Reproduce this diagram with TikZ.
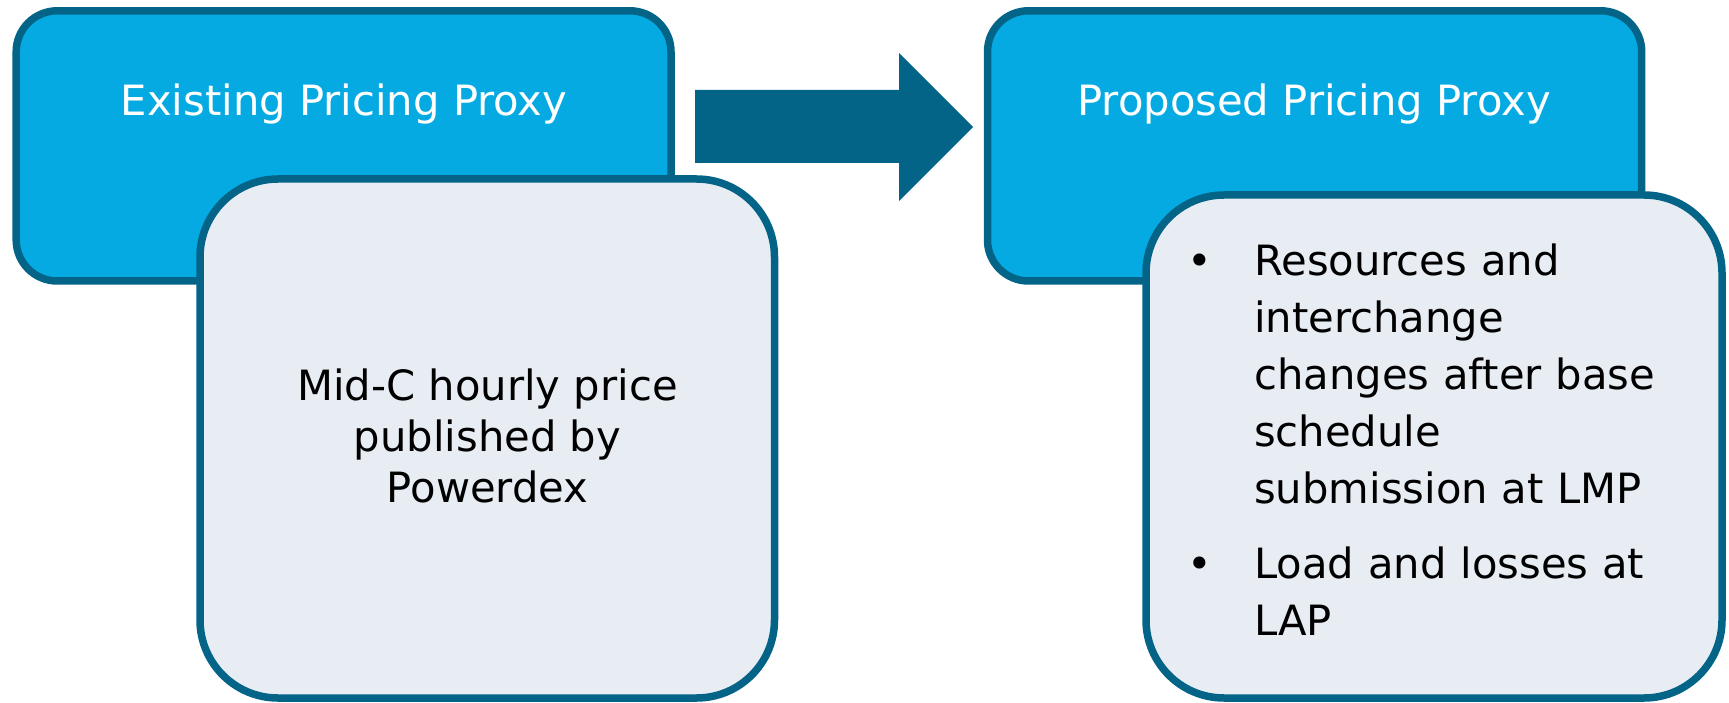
\documentclass[tikz,border=0pt]{standalone}
\usepackage{fontspec}
\setmainfont{DejaVu Sans}
\definecolor{boxblue}{HTML}{06AAE2}
\definecolor{edgeteal}{HTML}{036488}
\definecolor{paleblue}{HTML}{E8EDF4}
\tikzset{
  basebox/.style={draw=edgeteal, line width=7.5pt, inner sep=0pt, outer sep=0pt},
  bluebox/.style={basebox, fill=boxblue, rounded corners=41pt},
  palebox/.style={basebox, fill=paleblue, rounded corners=78pt},
  titletext/.style={text=white, inner sep=0pt, anchor=base, font=\fontsize{41.7pt}{50pt}\selectfont},
  bodytext/.style={text=black, inner sep=0pt, font=\fontsize{41.7pt}{#1}\selectfont},
}
\newcommand{\bulletmark}{\leavevmode\llap{•\hspace{41.7pt}}}
\begin{document}
\begin{tikzpicture}[x=1pt,y=-1pt]
\useasboundingbox (0,0) rectangle (1729,703);
% left pair
\node[bluebox, minimum width=654.8pt, minimum height=270.2pt] (b1) at (343.6,145.9) {};
\node[palebox, minimum width=574.5pt, minimum height=519pt] (b2) at (487.25,438.5) {};
% right pair
\node[bluebox, minimum width=654.2pt, minimum height=270.2pt] (b3) at (1314.6,145.9) {};
\node[palebox, minimum width=576pt, minimum height=503pt] (b4) at (1434,446.5) {};
% titles
\node[titletext] (t1) at (344,115.7) {Existing Pricing Proxy};
\node[titletext] (t3) at (1314,115.7) {Proposed Pricing Proxy};
% body texts
\node[bodytext=51pt, align=center, anchor=north] (m2) at (487.5,360.7)
  {\rule{0pt}{40pt}Mid-C hourly price\\published by\\Powerdex};
\node[bodytext=57pt, align=left, anchor=north west, text width=465pt] (m4) at (1254,235)
  {\rule{0pt}{40pt}\bulletmark Resources and\\interchange\\changes after base\\schedule\\submission at LMP\\[18pt]%
   \bulletmark Load and losses at\\LAP};
% block arrow
\fill[edgeteal] (695,90) -- (899,90) -- (899,53) -- (973,127) -- (899,201) -- (899,163) -- (695,163) -- cycle;
\end{tikzpicture}
\end{document}
